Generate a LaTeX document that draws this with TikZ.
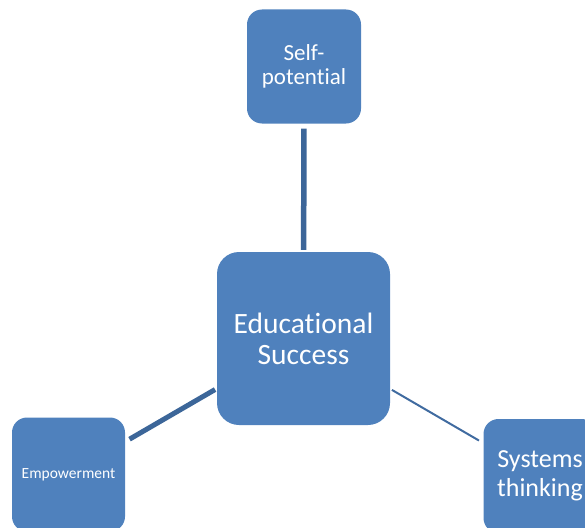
\documentclass[tikz,border=0pt]{standalone}
\usepackage{fontspec}
\setmainfont{Carlito}[Ligatures=NoCommon]
\usepackage{xcolor}
\definecolor{boxblue}{HTML}{4F81BD}
\definecolor{linkblue}{HTML}{3C6699}

\begin{document}
\begin{tikzpicture}[x=1pt,y=-1pt,
    topic/.style={fill=boxblue,text=white,align=center,inner sep=0pt,
        rounded corners=15pt,minimum width=114pt,minimum height=114pt},
    link/.style={draw=linkblue,shorten <=5pt,shorten >=2pt}]
                \useasboundingbox (0,0) rectangle (585,527);
                \node[topic,minimum width=173pt,minimum height=173pt,rounded corners=22pt,
                    font=\fontsize{29.5}{31}\selectfont] (success) at (303.5,338.5) {Educational\\Success};
                \node[topic,font=\fontsize{23}{24}\selectfont] (self) at (304,66.5) {Self-\\potential};
                \node[topic,minimum width=113pt,font=\fontsize{15.5}{18}\selectfont] (empower) at (68.5,474.5) {Empowerment};
                \node[topic,minimum width=113pt,font=\fontsize{26}{29}\selectfont] (systems) at (540,476) {Systems\\thinking};
                \draw[link,line width=5.5pt] (self) -- (success);
                \draw[link,line width=5pt] (empower) -- (success);
                \draw[link,line width=2pt,draw=linkblue!80!boxblue] (systems) -- (success);
            \end{tikzpicture}
\end{document}
